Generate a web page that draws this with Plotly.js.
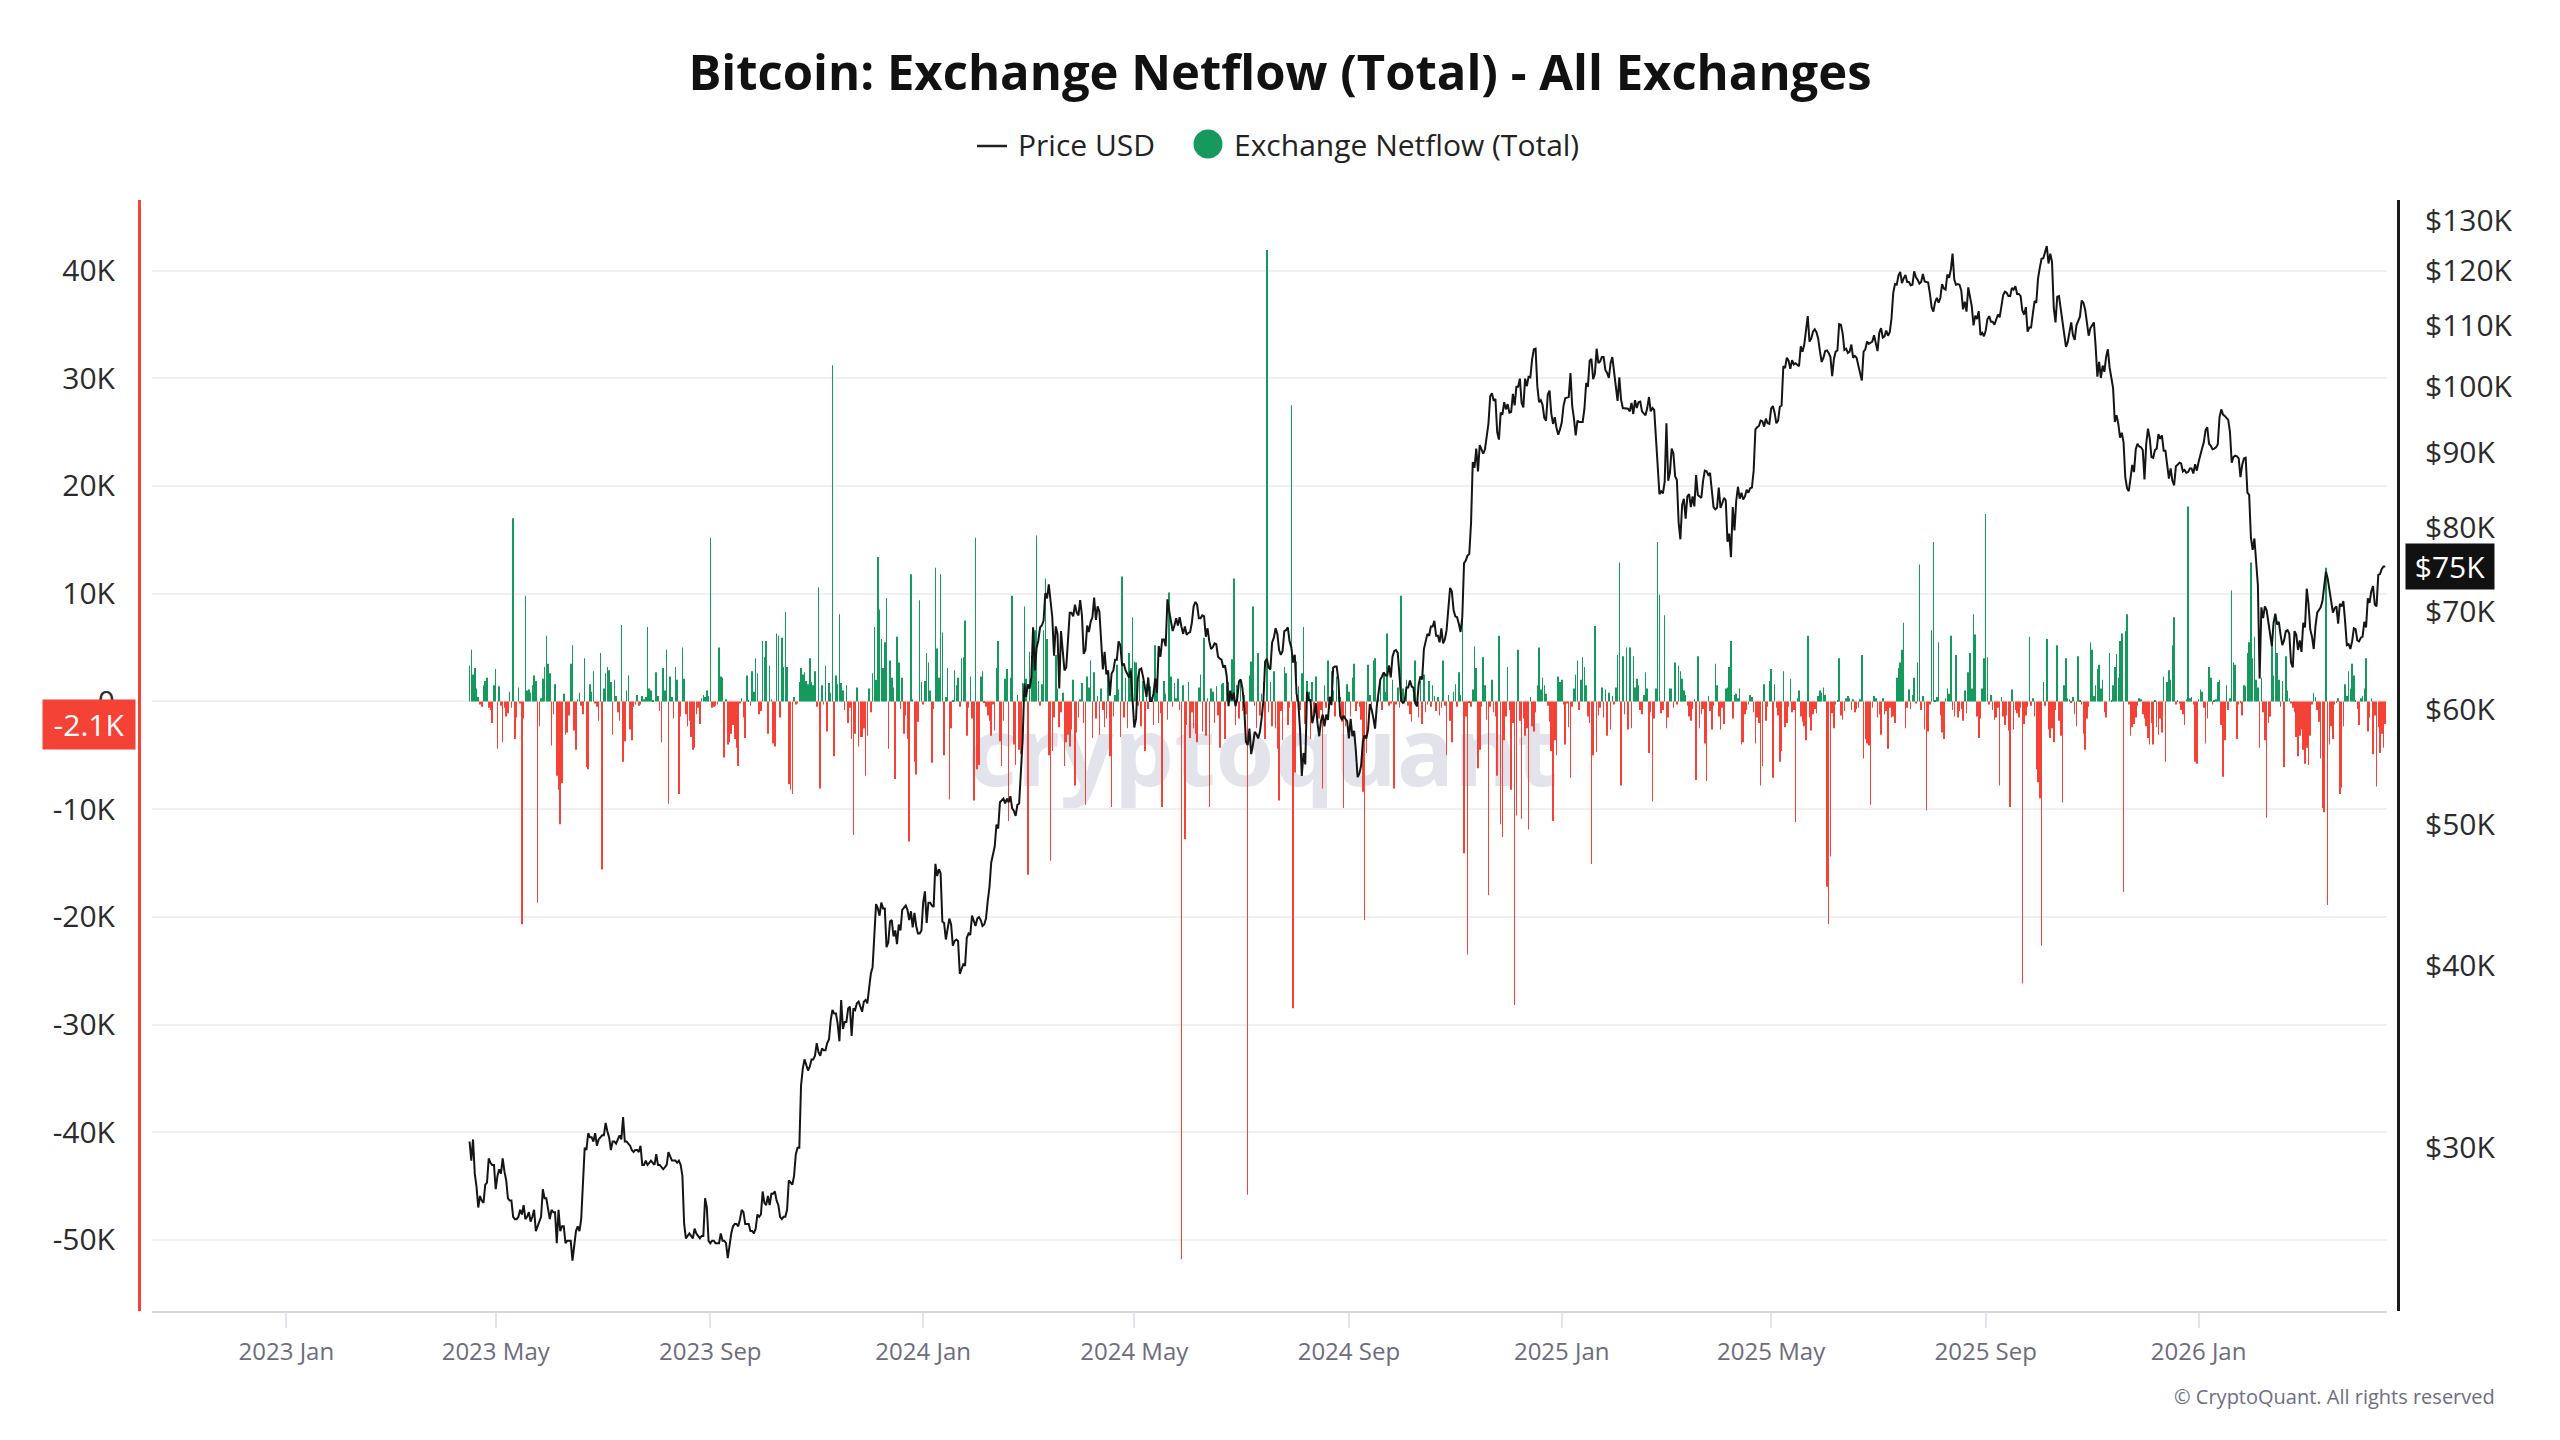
<!DOCTYPE html>
<html>
<head>
<meta charset="utf-8">
<script src="https://cdn.plot.ly/plotly-3.0.1.min.js"></script>
<style>
html,body{margin:0;padding:0;background:#fff;}
#chart{width:2560px;height:1440px;}
</style>
</head>
<body>
<div id="chart"></div>
<script>
// Daily BTC price in thousand USD, one line per month.
const price2023 = [ // from 2023-04-16
  30.3,29.4,30.4,28.8,28.2,27.3,27.8,27.6,27.5,28.3,28.4,29.5,29.3,29.2,29.2,
  28.1,28.7,29.0,28.8,29.5,28.9,28.5,27.7,27.6,27.6,26.9,26.8,26.8,26.9,27.2,27.0,27.4,26.8,26.9,27.1,26.7,26.9,27.2,26.3,26.5,26.7,26.9,28.1,27.7,27.7,27.2,
  26.8,27.2,27.1,27.1,25.8,27.2,26.3,26.5,26.5,25.8,25.9,25.9,25.9,25.1,25.6,26.3,26.5,26.3,26.8,28.3,30.0,29.9,30.7,30.5,30.5,30.3,30.7,30.1,30.4,30.5,
  30.6,30.6,31.2,30.8,30.5,29.9,30.3,30.3,30.2,30.4,30.6,30.4,31.5,30.3,30.3,30.2,30.1,29.9,29.8,29.9,29.9,29.8,30.1,29.2,29.2,29.4,29.2,29.3,29.4,29.3,29.2,
  29.7,29.2,29.2,29.1,29.0,29.1,29.2,29.8,29.6,29.4,29.4,29.4,29.3,29.4,29.2,28.7,26.6,26.0,26.1,26.2,26.1,26.0,26.4,26.2,26.1,26.0,26.1,26.1,27.7,27.3,25.9,
  25.8,25.9,25.9,25.8,25.8,25.8,26.2,25.9,25.9,25.8,25.2,25.8,26.2,26.5,26.6,26.6,26.5,26.8,27.2,27.1,26.6,26.6,26.6,26.3,26.3,26.2,26.4,27.0,26.9,27.0,
  28.0,27.5,27.4,27.8,27.4,27.9,27.9,28.0,27.6,27.4,26.9,26.8,26.9,26.9,27.2,28.5,28.4,28.3,28.7,29.7,30.0,30.0,33.1,34.0,34.5,34.2,33.9,34.1,34.5,34.5,34.7,
  35.4,34.9,34.7,35.1,35.0,35.0,35.4,35.6,36.7,37.3,37.1,37.1,36.5,35.5,37.9,36.2,36.6,36.6,37.4,37.5,35.8,37.4,37.3,37.7,37.8,37.5,37.2,37.8,37.9,37.7,
  38.7,39.5,39.9,42.0,44.1,43.8,43.3,44.2,43.8,43.8,41.2,41.5,42.9,43.0,41.9,42.3,41.4,42.7,42.3,43.7,43.9,44.0,43.7,43.0,43.6,42.5,43.5,42.6,42.1,42.1,42.3
];
const price2024 = [
  44.2,45.0,42.8,44.2,44.2,44.0,43.9,47.0,46.1,46.6,46.3,42.9,42.8,41.7,42.5,43.1,42.7,41.3,41.6,41.7,41.6,39.5,39.8,40.1,40.0,41.8,42.1,42.0,43.3,42.9,42.6,
  43.1,43.2,43.0,42.6,42.7,43.1,44.3,45.3,47.1,47.8,48.3,50.0,49.7,51.8,52.0,52.1,51.7,52.1,51.8,52.3,51.3,51.1,50.7,51.6,51.7,54.5,57.1,62.5,61.2,
  62.4,62.0,63.1,68.3,63.8,66.1,66.9,68.3,68.5,69.0,72.1,71.5,73.1,71.4,69.4,65.3,68.4,67.6,62.0,67.9,65.5,63.8,64.1,67.2,69.9,69.9,69.5,70.8,69.9,69.6,71.3,
  69.6,65.5,65.9,68.5,67.8,68.9,69.4,71.6,69.1,70.6,70.0,67.2,63.9,65.7,63.4,63.8,61.3,63.5,63.8,64.9,64.9,66.8,66.4,64.3,64.5,63.8,63.4,63.1,63.8,60.6,
  58.3,59.1,62.9,63.9,64.0,63.2,62.3,61.2,63.1,60.8,60.8,61.5,63.0,61.6,66.3,65.2,67.0,67.0,66.3,71.4,70.1,69.1,67.9,68.5,69.3,68.5,69.4,68.4,67.6,68.4,67.5,
  67.7,67.8,68.8,70.6,71.1,70.8,69.3,69.3,69.6,69.5,67.3,68.2,66.8,66.0,66.2,66.6,66.5,65.2,65.0,64.9,64.1,64.3,63.2,60.3,61.8,60.9,61.6,60.3,61.0,62.7,
  62.9,62.0,60.2,57.0,56.7,58.2,55.9,56.7,57.9,57.7,57.3,57.9,59.2,60.8,64.7,65.0,64.1,63.9,66.7,67.2,68.2,67.6,65.9,65.4,65.8,67.9,68.0,68.3,66.8,66.2,64.6,
  65.4,61.5,60.7,58.1,54.0,56.0,55.0,61.7,60.9,60.9,58.7,59.4,60.6,58.7,57.5,58.9,59.5,58.4,59.5,59.0,61.2,60.4,64.1,64.2,64.2,62.8,59.4,59.0,59.4,59.1,58.9,
  57.3,59.1,57.5,58.0,56.2,53.9,54.2,54.9,57.0,57.6,57.3,58.1,60.5,60.0,59.2,58.2,60.3,61.8,62.9,63.2,63.6,63.3,63.3,64.3,63.1,65.2,65.8,65.9,65.6,63.3,
  60.8,60.6,60.8,62.1,62.1,62.8,62.2,62.1,60.6,60.3,62.4,63.2,62.9,66.0,67.0,67.6,67.4,68.4,68.4,69.0,67.4,67.4,66.7,68.2,66.6,67.0,68.0,69.9,72.7,72.3,70.2,
  69.5,69.4,68.7,67.8,69.4,75.6,75.9,76.5,76.7,80.5,88.7,87.9,90.6,87.4,91.1,90.6,89.9,90.5,92.3,94.3,98.4,98.9,97.7,98.0,93.0,91.9,95.9,95.6,97.5,96.4,
  97.2,95.9,96.0,98.8,97.0,99.9,99.9,101.2,97.4,96.7,101.2,100.0,101.5,101.4,104.3,106.0,106.1,100.0,97.5,97.8,97.1,95.1,94.7,98.7,99.3,95.8,94.2,95.2,93.6,92.6,93.4
];
const price2025 = [
  94.4,96.9,98.1,98.2,98.3,102.1,96.9,95.0,92.5,94.7,94.5,94.5,94.5,96.5,100.5,99.9,104.1,104.4,101.1,102.0,106.1,103.7,104.0,104.7,104.7,102.6,102.1,101.3,103.7,104.7,102.4,
  100.7,97.7,101.4,97.9,96.6,96.6,96.6,96.5,96.1,97.4,95.7,97.8,96.6,97.5,97.6,96.1,95.8,95.5,96.6,98.3,96.1,96.6,96.3,91.5,88.7,84.3,84.7,84.4,
  86.0,94.3,86.1,87.2,90.6,89.9,86.7,86.2,80.6,78.5,82.9,83.7,81.1,84.0,84.3,82.6,84.0,82.7,86.9,84.2,84.0,83.8,86.1,87.5,87.4,86.9,87.2,84.4,82.6,82.3,82.5,
  85.2,82.5,83.1,83.8,83.5,78.2,79.2,76.3,82.6,79.6,83.4,85.3,83.7,84.5,83.6,84.0,84.9,84.5,85.1,85.2,87.5,93.4,93.7,93.9,94.7,94.6,93.8,95.0,94.3,94.2,
  96.5,96.9,95.9,94.3,94.7,96.8,97.0,103.2,102.9,104.6,104.1,102.8,104.2,103.5,103.7,103.5,103.2,106.5,105.6,106.8,109.7,111.7,107.3,107.8,109.0,109.4,108.9,107.8,105.6,103.9,104.6,
  105.7,105.8,105.4,104.7,101.6,104.4,105.6,105.8,110.3,110.2,108.7,105.9,106.1,105.4,105.6,106.8,104.6,104.9,104.6,103.3,102.2,100.9,105.6,106.0,107.3,106.9,107.1,107.3,108.4,107.1,
  105.7,108.8,109.6,108.0,108.2,109.2,108.3,108.9,111.3,115.9,117.5,117.4,119.1,119.8,117.7,118.6,119.2,117.9,117.9,117.3,117.4,119.9,118.8,118.3,117.6,117.9,119.4,118.0,117.9,117.8,115.8,
  113.3,112.5,114.2,115.0,114.1,115.0,117.5,116.7,116.5,119.3,118.7,120.2,123.3,118.3,117.4,117.5,117.4,116.3,112.9,114.3,112.5,116.9,115.4,113.5,110.1,111.8,111.2,112.6,108.4,108.8,108.2,
  109.2,111.2,111.7,110.7,110.7,110.2,111.1,112.0,111.5,113.9,115.5,116.1,115.9,115.3,115.3,116.8,116.5,117.1,115.7,115.7,115.3,112.7,112.0,113.3,109.0,109.7,109.7,112.1,114.4,114.1,
  118.6,120.6,122.3,122.4,123.5,124.8,121.4,123.3,121.7,113.2,110.6,115.2,115.3,113.0,110.8,108.2,106.4,107.2,108.6,110.6,108.4,107.6,110.1,111.0,111.6,114.5,114.1,112.9,110.0,108.3,109.6,
  110.1,110.6,106.5,101.5,103.9,101.3,103.3,102.3,104.7,106.0,103.0,101.6,99.7,94.5,95.5,94.2,92.2,92.9,91.5,86.6,85.1,84.7,86.8,88.3,87.3,90.5,91.3,90.9,90.8,90.4,
  86.3,91.3,93.5,92.1,89.4,89.3,90.4,90.6,92.7,92.0,92.5,90.3,90.3,88.2,86.4,87.8,86.1,85.5,88.1,88.3,88.6,88.5,87.4,87.6,87.2,87.3,87.8,87.8,87.1,88.4,87.5
];
const price2026 = [ // to 2026-04-18
  88.7,89.9,90.6,91.5,93.3,93.7,91.3,91.0,90.5,90.6,90.8,91.2,95.2,96.4,95.6,95.4,95.1,94.8,93.0,88.6,89.4,89.6,89.5,89.2,86.6,88.3,89.2,89.3,84.5,84.2,78.7,
  77.2,78.6,76.0,73.0,63.0,70.5,69.3,70.6,70.2,68.8,67.1,66.3,68.8,69.8,68.6,68.9,67.5,66.4,66.9,67.9,68.0,67.6,64.6,64.1,67.9,67.5,65.9,66.9,
  65.7,68.8,68.3,72.6,70.9,68.1,67.3,66.0,68.4,69.9,70.2,70.5,71.2,72.9,74.6,73.8,72.4,71.2,69.9,70.4,70.6,68.7,70.9,70.6,71.2,68.9,66.4,66.5,66.0,66.8,68.2,
  68.1,66.9,66.8,67.2,67.3,68.9,68.3,71.5,71.0,72.3,72.9,70.8,70.6,74.2,74.3,74.9,75.2,75.2
];

// Daily exchange netflow, all exchanges, in thousand BTC (inflow minus outflow).
const netflow2023 = [ // from 2023-04-16
  3.3,4.8,2.5,3.1,1.2,0.4,-0.3,-0.5,1.5,1.9,2.2,-0.6,-0.8,-2.0,1.5,
  3.0,-4.4,1.4,-0.4,-3.8,-0.6,-1.4,-1.1,0.9,-0.6,17.0,-3.5,-1.5,1.3,-0.2,-20.7,-1.6,9.8,1.0,1.1,0.8,1.5,2.4,1.9,-18.7,-2.3,0.3,2.1,3.2,6.1,3.5,
  2.6,-4.1,-1.2,1.6,-6.9,-8.2,-11.4,-7.6,0.7,-3.1,-2.9,-1.3,3.5,5.2,-2.7,-4.5,0.2,0.8,-0.4,-1.2,4.0,-6.1,-6.3,1.6,0.9,2.8,-0.2,-0.5,-1.8,4.5,
  -15.6,1.2,2.6,3.2,2.9,1.8,-3.1,2.0,0.5,-1.0,-1.8,7.1,-5.6,-3.7,1.0,2.4,-2.6,-3.6,-0.5,-0.3,0.6,-0.4,-0.3,0.5,0.2,0.4,6.9,1.2,1.0,0.1,0.0,
  2.7,0.5,-0.9,-3.8,3.1,1.0,4.8,-9.5,2.3,0.4,-1.6,3.2,2.0,-8.6,-1.4,5.0,2.1,-1.2,-2.3,-1.8,-3.3,-4.5,-4.3,-1.2,-0.6,-2.1,0.3,0.6,0.4,1.0,0.5,
  15.2,-0.6,-0.5,-0.4,-0.3,5.0,2.3,2.2,-5.2,0.2,-4.0,-3.8,-3.0,-2.2,-3.5,-4.3,-6.0,-0.2,0.3,-1.5,-3.4,2.4,0.1,-0.4,2.8,0.9,4.0,2.6,-1.2,-0.9,
  5.6,4.1,5.6,-3.0,3.3,0.2,-3.9,-4.2,6.3,6.1,-1.5,5.9,3.2,8.3,3.2,-7.7,-8.2,-8.6,0.4,-0.3,-0.2,1.8,3.1,2.5,2.7,1.9,1.6,4.0,1.8,1.5,2.8,
  -0.5,10.6,-8.1,1.5,-0.3,3.3,-2.8,1.7,0.8,31.2,-5.1,2.4,1.6,8.1,1.7,1.0,-0.8,1.5,-2.0,-0.6,-3.5,-12.4,-3.0,1.3,-4.2,-3.3,-3.3,-2.5,-6.9,-3.2,
  1.2,-1.0,2.6,6.9,2.0,13.4,8.5,5.8,3.1,5.5,9.6,-4.4,3.8,2.2,1.3,-7.2,6.0,3.6,-0.7,2.2,-3.0,-1.3,-3.5,-13.0,11.8,0.2,-5.6,-6.8,-1.9,9.4,1.8
];
const netflow2024 = [
  -0.3,1.9,4.5,3.6,1.0,-5.7,-0.7,12.4,4.9,2.2,11.8,6.4,-5.0,0.4,3.1,-9.1,-2.5,0.1,2.9,1.5,2.2,-0.5,4.0,4.1,7.5,-3.2,-0.6,2.3,-1.6,-9.2,15.2,
  -6.3,-5.9,2.3,2.8,-0.1,-0.5,-1.3,-1.8,-3.2,-0.3,-2.7,3.1,5.6,-3.7,-6.0,-1.8,2.1,3.0,-11.1,2.2,9.8,-4.0,-5.9,0.6,-4.5,-4.9,1.7,8.8,2.1,
  -16.1,4.6,3.1,5.7,6.6,15.4,1.9,-0.4,1.6,6.6,11.4,5.8,-5.0,-14.8,-4.6,-1.5,4.3,1.2,-2.4,-1.0,0.8,-6.0,-3.8,-3.1,-4.2,-2.6,2.0,-7.8,-2.9,-1.5,0.2,
  1.7,-2.0,-9.6,2.3,1.3,3.8,-3.4,2.7,-1.6,0.5,-3.1,1.2,-0.8,-2.4,-1.6,2.7,-5.1,-9.8,-1.4,0.6,3.4,1.1,-3.3,11.6,-1.5,2.2,-2.5,4.5,3.1,7.8,
  3.7,3.6,-0.4,2.7,-2.3,1.9,-4.6,1.6,-0.7,1.4,0.4,-2.2,5.2,2.0,-2.0,-1.1,-9.8,1.9,0.7,-1.7,10.1,2.3,-0.5,1.7,0.3,2.1,-0.8,-51.8,1.5,-12.8,-2.2,
  1.8,-3.4,-1.0,-2.5,-3.0,-3.8,1.3,2.5,-2.8,5.9,-3.2,0.3,-9.8,1.2,0.9,-2.0,1.4,-1.3,-4.3,1.6,1.7,-3.5,1.4,1.8,0.6,3.9,11.4,-2.2,1.5,-1.6,
  1.8,-0.9,0.6,-1.2,-45.8,2.4,3.7,8.8,-0.4,-2.5,4.5,-1.3,0.7,1.8,-3.5,41.9,-1.0,1.8,-2.3,2.8,-2.5,-4.4,-9.2,-0.9,-3.6,3.2,2.6,-2.2,-0.6,27.5,-28.5,
  -6.6,3.7,1.4,-0.8,2.6,6.9,-2.1,1.9,0.9,-3.5,1.8,-1.1,2.3,-2.1,-1.6,-0.8,-8.1,1.5,-0.6,3.8,-0.7,2.8,1.0,-1.4,2.3,1.5,0.4,-1.9,-9.9,-2.3,1.6,
  0.9,-1.4,2.2,3.5,-0.9,-0.2,-0.5,-1.7,-8.4,-20.3,-4.8,3.4,0.6,-0.8,3.8,4.0,-0.4,0.3,1.8,-0.8,2.7,0.9,6.3,-0.4,-0.2,2.0,-8.1,-0.3,1.3,-0.6,
  9.8,1.2,-0.2,2.0,-0.4,-1.2,-1.9,0.7,3.8,-0.5,-1.5,1.9,-2.1,2.5,-1.0,-0.3,1.9,-0.5,1.5,0.5,-0.9,0.4,-1.3,-0.6,3.8,-0.4,-5.0,0.6,-1.8,-3.8,0.9,
  1.6,-0.5,2.7,0.6,9.1,-14.1,-1.4,-23.5,-0.1,-0.5,1.1,5.1,3.1,-6.2,-4.5,-0.5,4.1,1.5,-1.7,-18.0,-0.5,2.0,-1.0,-1.4,-6.9,6.1,-11.4,-12.6,-3.6,-1.4,
  3.2,-0.8,-8.2,-2.0,-28.2,-10.6,4.8,-1.8,-10.9,-1.6,-3.2,-2.5,-11.9,0.4,-2.3,-2.8,-1.0,1.5,5.0,1.1,2.2,1.5,0.7,-0.4,-1.9,-4.6,-11.1,-3.6,-5.0,2.3,1.8
];
const netflow2025 = [
  2.0,-0.3,-4.0,-0.2,-2.4,-7.1,-0.5,1.2,2.5,3.8,-0.8,2.0,4.1,3.2,1.5,-1.4,-2.0,-15.1,-5.0,7.0,-4.7,-1.3,-0.6,1.3,-1.5,1.1,-3.2,0.8,-2.6,0.5,-0.3,
  1.3,4.3,12.9,-7.8,4.2,-1.2,5.0,-2.6,5.0,-2.5,4.2,1.3,2.1,1.5,-0.8,-1.2,0.6,2.7,1.2,-4.8,-1.0,-9.3,-1.6,1.2,14.8,9.9,-1.1,-0.8,
  8.0,-2.5,-1.5,1.2,1.2,-0.6,3.6,-0.3,3.3,2.8,2.1,1.0,0.6,-0.4,-1.4,-1.8,-0.7,0.2,-7.3,4.2,-2.5,-1.2,-0.7,-3.9,-7.4,0.5,-0.9,-2.6,-0.4,3.5,1.5,
  -1.4,-2.6,-0.6,-2.1,1.2,1.3,3.2,5.6,-1.6,0.6,0.7,0.3,1.2,-4.0,-3.8,-1.2,-0.8,-0.3,0.6,0.4,-1.0,-3.9,-1.5,-2.0,-7.8,-6.0,1.6,-1.8,-0.5,1.9,
  3.0,-7.1,1.6,-0.6,-1.3,-5.6,-4.6,2.8,-2.4,-2.0,-0.5,2.1,-1.0,-0.8,-11.2,0.3,1.0,-1.4,-1.9,-2.3,-3.6,6.1,-1.5,-2.7,-1.2,-0.7,-1.1,0.5,1.0,0.8,1.3,
  0.6,-17.2,-20.7,-14.4,-1.1,-2.5,-0.3,0.1,4.0,-1.3,-1.7,-0.9,0.3,0.5,0.3,-0.8,0.2,-1.0,-0.7,-0.6,0.2,4.3,-5.3,-3.5,-3.9,-4.1,-9.6,-0.6,0.5,0.3,
  -1.5,-1.2,-3.1,0.3,-1.2,-0.9,-4.4,-0.6,-1.5,-1.4,-2.0,2.2,3.1,3.6,4.8,7.3,-2.5,-0.6,1.1,-0.7,0.6,2.2,-0.2,3.6,12.7,-0.8,0.5,-2.6,-10.1,-2.8,-0.3,
  6.6,14.8,0.1,0.4,5.5,-1.3,-2.9,-3.5,0.3,1.2,0.7,6.1,-0.8,-1.4,4.3,-1.5,-0.9,-0.7,-1.8,1.0,-1.1,2.7,4.5,1.2,8.1,6.2,-1.4,-3.4,-1.6,1.2,4.0,
  17.4,4.1,-0.3,0.6,-0.8,-1.7,-1.5,-0.6,-7.8,0.4,-1.4,-2.2,-1.3,-2.7,-9.8,1.1,-2.6,-0.8,-1.1,-1.5,-0.6,-26.2,-2.1,-1.3,-0.5,6.0,-0.4,0.3,-1.4,-6.3,
  -7.5,-9.0,-22.7,1.8,-0.4,5.8,-2.6,-3.4,-2.5,-3.8,-0.8,5.2,-1.8,-3.2,-9.4,1.5,4.0,0.3,0.2,-0.1,0.4,-1.2,-2.3,4.2,0.1,-0.3,-3.0,-4.5,-1.6,-0.5,5.5,
  4.8,0.5,1.5,3.0,3.4,1.2,2.0,-1.0,-1.5,0.0,4.5,0.1,1.5,3.2,4.4,2.2,5.6,6.3,-17.7,6.5,8.1,-0.3,-3.2,-2.4,-2.1,-1.5,-0.4,0.3,0.2,-1.2,
  -1.6,-2.3,-3.4,-4.0,-2.0,-4.0,0.1,-2.4,-3.1,-1.6,-2.9,2.3,-5.6,1.8,2.9,2.0,5.2,7.8,-0.3,0.1,-0.2,-0.8,-1.2,-2.2,0.2,18.1,0.3,0.4,-0.3,-5.6,-5.8
];
const netflow2026 = [ // to 2026-04-18
  0.2,1.1,0.9,-0.6,-3.9,-1.6,3.2,2.2,-0.3,0.1,0.2,1.8,2.0,-2.2,-7.0,-3.6,1.5,-0.8,0.3,10.3,3.6,3.4,-3.5,-0.3,-0.1,-1.3,1.5,1.4,4.5,5.5,12.9,
  4.0,6.0,2.0,1.3,-4.3,2.2,-1.0,-3.6,-10.8,-2.0,-1.4,5.7,2.4,7.8,4.5,2.0,-0.5,1.9,-6.1,4.2,1.0,0.3,-0.2,-0.6,-1.0,-3.3,-5.1,-3.2,
  -2.6,-4.5,-5.8,-4.3,-5.9,-3.2,-0.3,0.8,0.4,-0.8,-1.9,-5.3,-9.9,-10.3,12.4,-18.9,-4.0,-2.3,-3.5,-0.3,-0.1,0.3,-8.6,-8.0,-2.3,1.6,0.5,2.8,1.2,3.5,2.4,
  0.1,-0.7,-2.2,0.3,0.5,1.2,4.0,-2.8,-1.5,0.3,-4.9,-1.3,-7.9,-2.4,-4.8,-3.0,-4.3,-2.1
];

// First day of each yearly block
const blockStarts = ['2023-04-16', '2024-01-01', '2025-01-01', '2026-01-01'];

// Axis ticks and labels
const xTickVals = ['2023-01-01','2023-05-01','2023-09-01','2024-01-01','2024-05-01','2024-09-01','2025-01-01','2025-05-01','2025-09-01','2026-01-01'];
const xTickText = ['2023 Jan','2023 May','2023 Sep','2024 Jan','2024 May','2024 Sep','2025 Jan','2025 May','2025 Sep','2026 Jan'];
const flowTickVals = [-50,-40,-30,-20,-10,0,10,20,30,40];
const flowTickText = ['-50K','-40K','-30K','-20K','-10K','0','10K','20K','30K','40K'];
const priceTickVals = [30,40,50,60,70,80,90,100,110,120,130];
const priceTickText = ['$30K','$40K','$50K','$60K','$70K','$80K','$90K','$100K','$110K','$120K','$130K'];

const GREEN = '#15995c';
const RED = '#f44336';

function dailyDates(start, n) {
  const t0 = Date.parse(start + 'T00:00:00Z');
  const out = [];
  for (let i = 0; i < n; i++) out.push(new Date(t0 + i * 86400000).toISOString().slice(0, 10));
  return out;
}
function joinBlocks(blocks) {
  const x = [], y = [];
  blocks.forEach((vals, k) => {
    const d = dailyDates(blockStarts[k], vals.length);
    for (let i = 0; i < vals.length; i++) { x.push(d[i]); y.push(vals[i]); }
  });
  return {x, y};
}

const flow = joinBlocks([netflow2023, netflow2024, netflow2025, netflow2026]);
const price = joinBlocks([price2023, price2024, price2025, price2026]);
const lastFlow = flow.y[flow.y.length - 1];
const lastPrice = price.y[price.y.length - 1];

// Plot frame in page pixels
const PL = 139, PR = 2398, PT = 200, PB = 1311;
const px = v => (v - PL) / (PR - PL);
const py = v => (PB - v) / (PB - PT);

const traces = [
  {
    type: 'bar', name: 'Exchange Netflow (Total)',
    x: flow.x, y: flow.y, xaxis: 'x', yaxis: 'y',
    width: 0.32 * 86400000,
    marker: {color: flow.y.map(v => v >= 0 ? GREEN : RED), line: {width: 0}},
    hoverinfo: 'x+y'
  },
  {
    type: 'scatter', mode: 'lines', name: 'Price USD',
    x: price.x, y: price.y, xaxis: 'x', yaxis: 'y2',
    line: {color: '#151515', width: 2},
    hoverinfo: 'x+y'
  }
];

const layout = {
  width: 2560, height: 1440,
  paper_bgcolor: '#ffffff', plot_bgcolor: 'rgba(0,0,0,0)',
  margin: {l: PL, r: 2560 - PR, t: PT, b: 1440 - PB, pad: 0},
  showlegend: false,
  font: {family: 'Open Sans, sans-serif', color: '#333'},
  title: {
    text: 'Bitcoin: Exchange Netflow (Total) - All Exchanges',
    font: {family: 'Open Sans, sans-serif', size: 49, weight: 700, color: '#111'},
    x: 0.5, xref: 'container', xanchor: 'center',
    y: 1 - 73 / 1440, yref: 'container', yanchor: 'middle'
  },
  xaxis: {
    type: 'date', domain: [px(152), px(2387)],
    range: ['2022-10-16', '2026-04-19'],
    tickmode: 'array', tickvals: xTickVals, ticktext: xTickText,
    ticks: 'outside', ticklen: 15, tickwidth: 1.5, tickcolor: '#e2e3eb',
    showline: true, linecolor: '#d3d6e3', linewidth: 2,
    showgrid: false, zeroline: false,
    tickfont: {size: 24, color: '#6c6c7c'}, ticklabelstandoff: 3,
    anchor: 'y', fixedrange: true
  },
  yaxis: {
    range: [-56.6, 46.55], anchor: 'free', position: 0, side: 'left',
    tickmode: 'array', tickvals: flowTickVals, ticktext: flowTickText,
    showline: true, linecolor: RED, linewidth: 3,
    showgrid: true, gridcolor: '#f0f0f3', gridwidth: 1.5, zeroline: false,
    ticks: '', tickfont: {size: 30, color: '#2b2b2b'}, ticklabelstandoff: 17,
    fixedrange: true
  },
  yaxis2: {
    type: 'log', range: [1.3651, 2.1278], overlaying: 'y', anchor: 'free', position: 1, side: 'right',
    tickmode: 'array', tickvals: priceTickVals, ticktext: priceTickText,
    showline: true, linecolor: '#1b1b1b', linewidth: 3,
    showgrid: false, zeroline: false,
    ticks: '', tickfont: {size: 30, color: '#2b2b2b'}, ticklabelstandoff: 19,
    fixedrange: true
  },
  shapes: [
    // watermark behind the series
    {type: 'rect', xref: 'paper', yref: 'paper', x0: px(1263) - 0.2, x1: px(1263) + 0.2, y0: py(756) - 0.05, y1: py(756) + 0.05,
     line: {width: 0}, fillcolor: 'rgba(0,0,0,0)', layer: 'below',
     label: {text: 'cryptoquant', textposition: 'middle center', font: {family: 'Open Sans, sans-serif', size: 95, weight: 700, color: '#e3e3ec'}}},
    // legend keys
    {type: 'line', xref: 'paper', yref: 'paper', x0: px(977), x1: px(1007), y0: py(146), y1: py(146), line: {color: '#222', width: 2.5}},
    {type: 'circle', xref: 'paper', yref: 'paper', x0: px(1193.5), x1: px(1222.5), y0: py(158.5), y1: py(129.5), line: {width: 0}, fillcolor: GREEN}
  ],
  annotations: [
    {xref: 'paper', yref: 'paper', x: px(1016), y: py(144), xanchor: 'left', yanchor: 'middle', showarrow: false,
     text: 'Price USD', font: {size: 30, color: '#222'}},
    {xref: 'paper', yref: 'paper', x: px(1232), y: py(144), xanchor: 'left', yanchor: 'middle', showarrow: false,
     text: 'Exchange Netflow (Total)', font: {size: 30, color: '#222'}},
    // latest values on the axes
    {xref: 'paper', yref: 'y', x: 0, y: lastFlow, xanchor: 'right', yanchor: 'middle', xshift: -3, showarrow: false,
     text: lastFlow.toFixed(1) + 'K', font: {size: 30, color: '#fff'}, bgcolor: RED, width: 86, height: 43, borderpad: 3},
    {xref: 'paper', yref: 'y2', x: 1, y: Math.log10(lastPrice), xanchor: 'left', yanchor: 'middle', xshift: 7, showarrow: false,
     text: '$' + Math.round(lastPrice) + 'K', font: {size: 30, color: '#fff'}, bgcolor: '#111', width: 82, height: 39, borderpad: 3},
    {xref: 'paper', yref: 'paper', x: px(2497), y: py(1396), xanchor: 'right', yanchor: 'middle', showarrow: false,
     text: '© CryptoQuant. All rights reserved', font: {size: 20, color: '#6e6e80'}}
  ]
};

Plotly.newPlot('chart', traces, layout, {displayModeBar: false, responsive: false});
</script>
</body>
</html>
